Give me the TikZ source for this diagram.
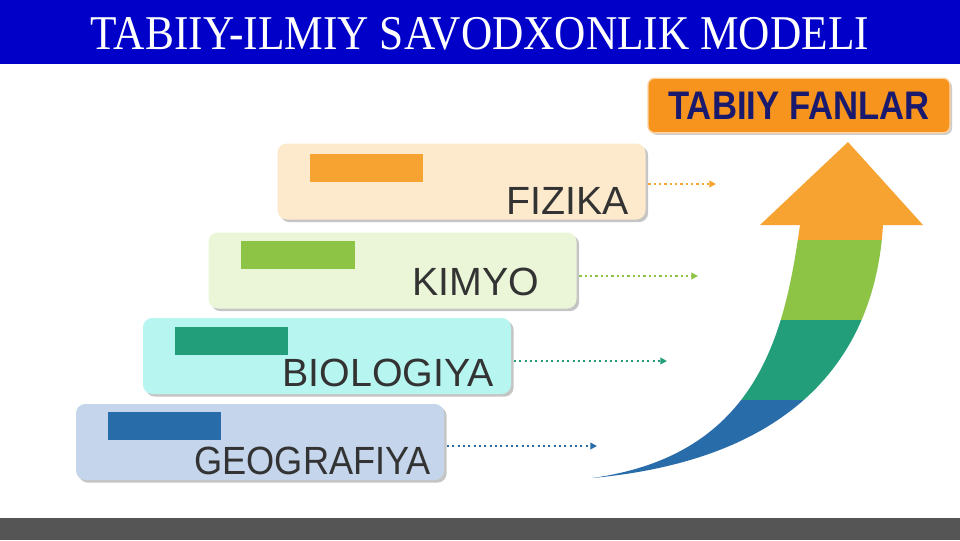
\documentclass[tikz,border=0pt]{standalone}
\usepackage{fontspec}
\setmainfont{Liberation Serif}
\newfontfamily\boxfont{Liberation Sans}
\usetikzlibrary{positioning, shadows, arrows.meta}

\definecolor{titleblue}{RGB}{0,0,200}
\definecolor{footgray}{RGB}{85,85,85}
\definecolor{labelgray}{RGB}{51,51,51}
\definecolor{fannavy}{RGB}{25,25,110}
\definecolor{fanorange}{RGB}{247,148,29}
\definecolor{fizfill}{RGB}{253,234,204}
\definecolor{fizbar}{RGB}{247,163,50}
\definecolor{kimfill}{RGB}{235,245,215}
\definecolor{kimbar}{RGB}{141,196,70}
\definecolor{biofill}{RGB}{182,245,240}
\definecolor{biobar}{RGB}{35,158,122}
\definecolor{geofill}{RGB}{196,213,236}
\definecolor{geobar}{RGB}{40,108,170}

\tikzset{
  subject/.style={rounded corners=7pt, minimum width=276pt, minimum height=57pt,
    inner sep=0pt, drop shadow={shadow xshift=2pt, shadow yshift=-2pt, opacity=0.45}},
  tag/.style={minimum width=85pt, minimum height=21pt, inner sep=0pt},
  subjlabel/.style={inner sep=0pt, text=labelgray, font=\boxfont\fontsize{29.5}{30}\selectfont},
  flow/.style={line width=2pt, dash pattern=on 1.6pt off 2.4pt, shorten <=2pt,
    -{Triangle[length=5pt,width=5pt]}},
}

\begin{document}
\begin{tikzpicture}[x=0.75pt, y=-0.75pt]
  \useasboundingbox (0,0) rectangle (960,540);
  \fill[white] (0,0) rectangle (960,540);

  % title and footer
  \fill[titleblue] (0,0) rectangle (960,64);
  \fill[footgray] (0,518) rectangle (960,540);
  \node[text=white, font=\fontsize{32.5}{34}\selectfont] (title) at (480,34)
    {\scalebox{1}[1.12]{TABIIY-ILMIY SAVODXONLIK MODELI}};

  % subject boxes
  \node[subject, fill=fizfill] (fiz) at (461.5,181.5) {};
  \node[subject, fill=kimfill] (kim) at (392.5,270.5) {};
  \node[subject, fill=biofill] (bio) at (327,356) {};
  \node[subject, fill=geofill] (geo) at (260,442) {};

  \node[tag, fill=fizbar, below right=7.5pt and 24pt of fiz.north west] (fizbar) {};
  \node[tag, fill=kimbar, below right=6pt and 24.5pt of kim.north west] (kimbar) {};
  \node[tag, fill=biobar, below right=6.5pt and 24pt of bio.north west] (biobar) {};
  \node[tag, fill=geobar, below right=6pt and 24pt of geo.north west] (geobar) {};

  \node[subjlabel, above left=3.75pt and 12.75pt of fiz.south east] (fizlabel) {FIZIKA};
  \node[subjlabel, above left=9.75pt and 27.75pt of kim.south east] (kimlabel) {KIMYO};
  \node[subjlabel, above left=5.25pt and 12.75pt of bio.south east] (biolabel) {BIOLOGIYA};
  \node[subjlabel, above left=3.75pt and 9.75pt of geo.south east] (geolabel)
    {\scalebox{0.92}[1]{GEOGRAFIYA}};

  % dotted arrows
  \coordinate (fizend) at (716,184);
  \coordinate (kimend) at (698,276);
  \coordinate (bioend) at (667,361);
  \coordinate (geoend) at (597,446);
  \draw[flow, fizbar] (fiz.east |- fizend) -- (fizend);
  \draw[flow, kimbar] (kim.east |- kimend) -- (kimend);
  \draw[flow, biobar] (bio.east |- bioend) -- (bioend);
  \draw[flow, geobar] (geo.east |- geoend) -- (geoend);

  % rising arrow
  \begin{scope}
    \clip (592,478) .. controls (760,455) and (785,330) .. (800,225)
      -- (883,225) .. controls (875,360) and (790,460) .. (592,478) -- cycle;
    \fill[geobar] (580,400) rectangle (900,490);
    \fill[biobar] (580,320) rectangle (900,400);
    \fill[kimbar] (580,240) rectangle (900,320);
    \fill[fizbar] (580,215) rectangle (900,240);
  \end{scope}
  \fill[fizbar] (760,225) -- (848,142) -- (923,225) -- cycle;

  % heading box
  \node[fill=fanorange, draw=fanorange!40!white, line width=1pt, rounded corners=5pt,
    minimum width=226.5pt, minimum height=41pt, inner sep=0pt,
    drop shadow={shadow xshift=1.5pt, shadow yshift=-1.5pt, opacity=0.4},
    text=fannavy, font=\boxfont\bfseries\fontsize{26}{27}\selectfont] (fan) at (799,105.5)
    {\scalebox{1}[1.15]{TABIIY FANLAR}};
\end{tikzpicture}
\end{document}
